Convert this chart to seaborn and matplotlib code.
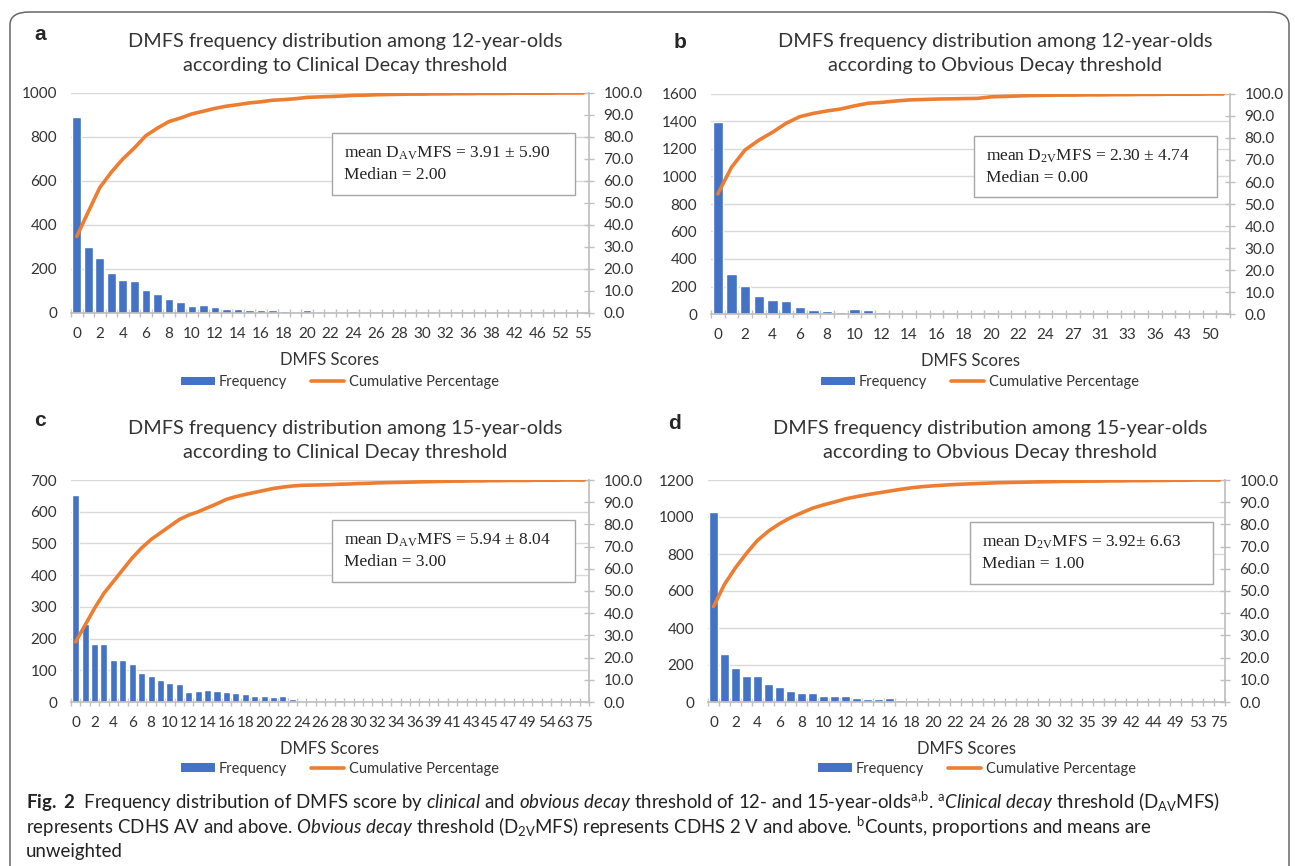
import numpy as np
import pandas as pd
import seaborn as sns
import matplotlib.pyplot as plt
from matplotlib.patches import Patch, Rectangle, FancyBboxPatch
from matplotlib.lines import Line2D

# panel a: 12-year-olds, clinical decay
scores_a = list(range(0, 33)) + [34, 36, 37, 38, 40, 42, 44, 46, 49, 52, 53, 55]
freq_a = [891, 300, 250, 182, 148, 144, 103, 88, 65, 48, 33, 36, 26, 18, 18, 15, 15, 12, 8, 5,
          14, 5, 3, 5, 8, 3, 4, 2, 2, 3, 2, 1, 2, 1, 1, 2, 1, 1, 1, 1, 1, 1, 1, 1, 1]
cum_a = [34.8, 46, 57, 64, 70, 75, 80.6, 84, 87, 88.6, 90.5, 91.7, 93, 94, 94.7, 95.5, 96, 96.7,
         97, 97.4, 98, 98.2, 98.4, 98.6, 98.9, 99.0, 99.2, 99.3, 99.4, 99.5, 99.5, 99.6, 99.6,
         99.7, 99.7, 99.8, 99.8, 99.8, 99.9, 99.9, 99.9, 99.9, 100, 100, 100]

# panel b: 12-year-olds, obvious decay
scores_b = list(range(0, 26)) + [27, 29, 31, 32, 33, 35, 36, 40, 43, 46, 50, 52]
freq_b = [1395, 293, 201, 128, 99, 92, 48, 31, 19, 15, 36, 27, 15, 7, 7, 7, 7, 2, 2, 2, 15,
          3, 2, 2, 1, 2, 1, 1, 1, 1, 1, 1, 1, 1, 1, 1, 1, 1]
cum_b = [54.6, 66.7, 74.6, 79, 82.6, 86.7, 89.7, 91.2, 92.3, 93.2, 94.6, 95.8, 96.2, 96.8, 97.3,
         97.5, 97.7, 97.8, 97.9, 98.0, 98.7, 98.9, 99.1, 99.3, 99.4, 99.5, 99.5, 99.6, 99.6, 99.7,
         99.7, 99.8, 99.8, 99.9, 99.9, 99.9, 100, 100]

# panel c: 15-year-olds, clinical decay
scores_c = list(range(0, 37)) + [38, 39, 40, 41, 42, 43, 44, 45, 46, 47, 48, 49, 51, 54, 58, 63, 68, 75]
freq_c = [653, 247, 184, 184, 134, 131, 119, 92, 81, 68, 60, 58, 32, 35, 38, 34, 33, 27, 25, 18,
          18, 16, 18, 11, 4, 4, 4, 3, 6, 3, 4, 3, 3, 3, 3,
          1, 2, 1, 1, 1, 1, 1, 1, 1, 1, 1, 1, 1, 1, 1, 1, 1, 1, 1, 1]
cum_c = [27.1, 34.7, 42.2, 49, 54.3, 59.6, 64.9, 69.4, 73.2, 76.2, 79.2, 82.2, 84.2, 85.7, 87.5,
         89.3, 91.3, 92.5, 93.5, 94.4, 95.3, 96.2, 96.8, 97.3, 97.6,
         97.7, 97.8, 97.9, 98.1, 98.2, 98.4, 98.5, 98.7, 98.8, 98.9, 99.0, 99.1, 99.2, 99.3, 99.4,
         99.5, 99.5, 99.6, 99.6, 99.7, 99.7, 99.8, 99.8, 99.8, 99.9, 99.9, 99.9, 100, 100, 100]

# panel d: 15-year-olds, obvious decay
scores_d = list(range(0, 34)) + [35, 37, 39, 40, 42, 43, 44, 46, 49, 51, 53, 60, 75]
freq_d = [1029, 260, 184, 139, 139, 99, 79, 60, 51, 47, 32, 31, 34, 23, 18, 14, 23, 13, 13, 13,
          13, 5, 7, 5, 2, 5, 5, 5, 5, 2, 3, 5,
          2, 1, 1, 1, 2, 1, 1, 1, 1, 1, 1, 1, 1, 1, 1]
cum_d = [43, 53, 60.5, 67, 72.8, 77, 80.3, 83, 85.2, 87.3, 88.8, 90.1, 91.5, 92.5, 93.4, 94.2,
         95, 95.8, 96.5, 97, 97.4, 97.7, 98,
         98.2, 98.4, 98.6, 98.8, 98.9, 99.0, 99.1, 99.2, 99.3, 99.4, 99.4, 99.5, 99.5, 99.6, 99.6,
         99.7, 99.7, 99.8, 99.8, 99.9, 99.9, 100, 100, 100]

titles = ["DMFS frequency distribution among 12-year-olds\naccording to Clinical Decay threshold",
          "DMFS frequency distribution among 12-year-olds\naccording to Obvious Decay threshold",
          "DMFS frequency distribution among 15-year-olds\naccording to Clinical Decay threshold",
          "DMFS frequency distribution among 15-year-olds\naccording to Obvious Decay threshold"]
notes = [r"mean $\mathregular{D_{AV}}$MFS = 3.91 ± 5.90" + "\nMedian = 2.00",
         r"mean $\mathregular{D_{2V}}$MFS = 2.30 ± 4.74" + "\nMedian = 0.00",
         r"mean $\mathregular{D_{AV}}$MFS = 5.94 ± 8.04" + "\nMedian = 3.00",
         r"mean $\mathregular{D_{2V}}$MFS = 3.92± 6.63" + "\nMedian = 1.00"]
letters = ["a", "b", "c", "d"]

BLUE = "#4472C4"
ORANGE = "#ED7D31"
GRID = "#D9D9D9"
AXC = "#BFBFBF"
TXT = "#333333"

sns.set_theme(style="white")
plt.rcParams['font.family'] = ['Lato', 'DejaVu Sans']
plt.rcParams['mathtext.fontset'] = 'custom'
plt.rcParams['mathtext.rm'] = 'Lato'
plt.rcParams['mathtext.it'] = 'Lato:italic'
plt.rcParams['mathtext.bf'] = 'Lato:bold'

W, H = 1295, 866
fig = plt.figure(figsize=(W / 100, H / 100), dpi=100)


def fx(px):
    return px / W


def fy(py):
    return 1 - py / H


def panel(box, scores, freq, cum, ymax, ystep, title, title_x, title_y,
          letter, letter_xy, note, note_box, leg_xy):
    left, top, right, bottom = box
    ax = fig.add_axes([fx(left), fy(bottom), (right - left) / W, (bottom - top) / H])
    n = len(scores)
    df = pd.DataFrame({"pos": np.arange(n), "freq": freq, "cum": cum})
    sns.barplot(data=df, x="pos", y="freq", native_scale=True, color=BLUE, saturation=1,
                width=0.75, errorbar=None, ax=ax)
    ax.set_xlim(-0.5, n - 0.5)
    ax.set_ylim(0, ymax)
    ax.set_yticks(np.arange(0, ymax + 1, ystep))
    ax.grid(axis="y", color=GRID, lw=1)
    ax.grid(axis="x", visible=False)
    ax.set_axisbelow(True)
    ax.set_xticks(np.arange(0, n, 2))
    ax.set_xticklabels([str(s) for s in scores[::2]])
    ax.set_xticks(np.arange(-0.5, n, 1), minor=True)
    ax.tick_params(axis="x", which="major", length=0, pad=10, labelsize=11, labelcolor=TXT)
    ax.tick_params(axis="x", which="minor", length=6, width=1, direction="inout", color=AXC, bottom=True)
    ax.tick_params(axis="y", length=0, pad=10, labelsize=11, labelcolor=TXT)
    for s in ["left", "top", "right"]:
        ax.spines[s].set_visible(False)
    ax.spines["bottom"].set_color(AXC)
    ax.set_xlabel("DMFS Scores", fontsize=12, labelpad=8, color=TXT)
    ax.set_ylabel("")

    ax2 = ax.twinx()
    sns.lineplot(data=df, x="pos", y="cum", color=ORANGE, lw=2.6, ax=ax2)
    ax2.set_ylim(0, 100)
    ax2.set_yticks(np.arange(0, 101, 10))
    ax2.set_yticklabels([f"{v:.1f}" for v in np.arange(0, 101, 10)])
    ax2.tick_params(axis="y", direction="inout", length=7, width=1, color=AXC, pad=7,
                    labelsize=11, labelcolor=TXT)
    ax2.grid(False)
    ax2.set_ylabel("")
    for s in ["left", "top", "bottom"]:
        ax2.spines[s].set_visible(False)
    ax2.spines["right"].set_color(AXC)

    handles = [Patch(facecolor=BLUE, edgecolor="none"), Line2D([], [], color=ORANGE, lw=2.6)]
    ax.legend(handles, ["Frequency", "Cumulative Percentage"], loc="center",
              bbox_to_anchor=leg_xy, ncol=2, frameon=False, fontsize=10.5,
              handlelength=2.3, handleheight=0.55, handletextpad=0.3, columnspacing=1.6,
              labelcolor=TXT)

    fig.text(fx(title_x), fy(title_y), title, ha="center", va="center", fontsize=14.3,
             linespacing=1.5, color=TXT)
    fig.text(fx(letter_xy[0]), fy(letter_xy[1]), letter, ha="left", va="center",
             fontsize=15, fontweight="bold", family=["Liberation Sans", "DejaVu Sans"])

    bx0, by0, bx1, by1 = note_box
    fig.patches.append(Rectangle((fx(bx0), fy(by1)), (bx1 - bx0) / W, (by1 - by0) / H,
                                 transform=fig.transFigure, facecolor="white",
                                 edgecolor="#A6A6A6", lw=1, zorder=3))
    fig.text(fx(bx0 + 12), fy((by0 + by1) / 2), note, ha="left", va="center", fontsize=12.5,
             family=["Liberation Serif", "DejaVu Serif"], linespacing=1.45, zorder=4,
             color="#222222")


panel((71, 93, 589, 313), scores_a, freq_a, cum_a, 1000, 200, titles[0], 345, 54,
      letters[0], (34, 35), notes[0], (332, 133, 575, 195), (0.519, -0.314))
panel((711, 94, 1230, 314), scores_b, freq_b, cum_b, 1600, 200, titles[1], 995, 54,
      letters[1], (674, 43), notes[1], (974, 136, 1217, 197), (0.518, -0.31))
panel((71, 480, 589, 702), scores_c, freq_c, cum_c, 700, 100, titles[2], 345, 440,
      letters[2], (34, 421), notes[2], (332, 520, 575, 582), (0.519, -0.30))
panel((708, 480, 1225, 702), scores_d, freq_d, cum_d, 1200, 200, titles[3], 990, 440,
      letters[3], (668, 423), notes[3], (970, 522, 1213, 584), (0.52, -0.30))

# frame
fig.patches.append(FancyBboxPatch((fx(10), fy(900)), (1289 - 10) / W, (900 - 12) / H,
                                  boxstyle="round,pad=0,rounding_size=0.015",
                                  transform=fig.transFigure, facecolor="none",
                                  edgecolor="#666666", lw=1.1, zorder=0))

# caption
cap1 = (r"$\mathbf{Fig.\ 2}$  Frequency distribution of DMFS score by $\mathit{clinical}$ and "
        r"$\mathit{obvious\ decay}$ threshold of 12- and 15-year-olds$^{\mathrm{a{,}b}}$. "
        r"$^{\mathrm{a}}\mathit{Clinical\ decay}$ threshold (D$_{\mathrm{AV}}$MFS)")
cap2 = (r"represents CDHS AV and above. $\mathit{Obvious\ decay}$ threshold (D$_{\mathrm{2V}}$MFS) "
        r"represents CDHS 2 V and above. $^{\mathrm{b}}$Counts, proportions and means are")
cap3 = "unweighted"
for txt, yy in [(cap1, 802), (cap2, 827), (cap3, 851)]:
    fig.text(fx(26), fy(yy), txt, ha="left", va="center", fontsize=13.4, color="#222222")

fig.savefig("out.png", dpi=100)
